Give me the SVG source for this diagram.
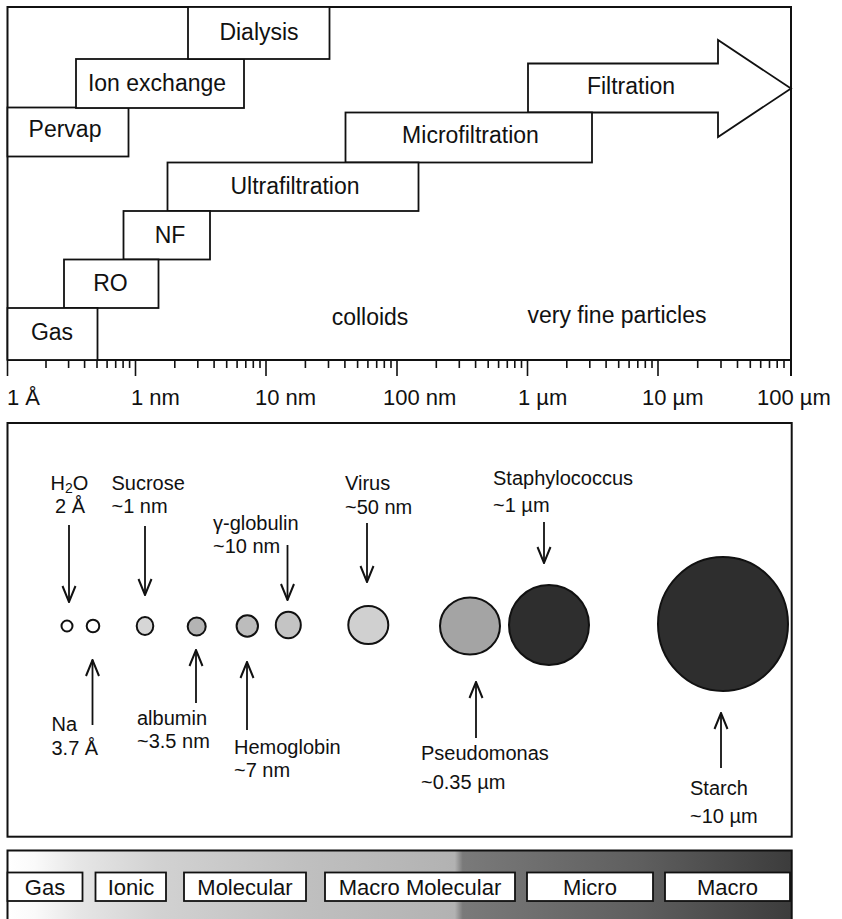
<svg xmlns="http://www.w3.org/2000/svg" width="842" height="919" viewBox="0 0 842 919">
<style>
text{font-family:"Liberation Sans",Arial,sans-serif;fill:#111}
.t{font-size:23px;text-anchor:middle}
.ax{font-size:22px}
.m{font-size:20px}
.b{font-size:22px;text-anchor:middle}
.box{fill:#fff;stroke:#111;stroke-width:1.8}
.frame{fill:none;stroke:#111;stroke-width:2}
.tick{stroke:#111;stroke-width:1.6}
.arr{stroke:#111;stroke-width:1.8;fill:none}
.p{stroke:#111;stroke-width:2}
</style>
<defs>
<marker id="ah" markerUnits="userSpaceOnUse" markerWidth="18" markerHeight="18" viewBox="-17 -9 18 18" refX="0" refY="0" orient="auto">
<path d="M-16,-6.5 L0,0 L-16,6.5" fill="none" stroke="#111" stroke-width="2"/>
</marker>
<linearGradient id="g" x1="8" y1="0" x2="792" y2="0" gradientUnits="userSpaceOnUse">
<stop offset="0" stop-color="#ffffff"/>
<stop offset="0.034" stop-color="#fafafa"/>
<stop offset="0.09" stop-color="#e6e6e6"/>
<stop offset="0.19" stop-color="#d2d2d2"/>
<stop offset="0.37" stop-color="#c0c0c0"/>
<stop offset="0.57" stop-color="#b2b2b2"/>
<stop offset="0.58" stop-color="#7a7a7a"/>
<stop offset="0.81" stop-color="#5e5e5e"/>
<stop offset="1" stop-color="#3c3c3c"/>
</linearGradient>
</defs>

<!-- Top panel -->
<g id="top-frame">
<path class="frame" d="M7.5,360 V7 H791 V376"/>
<line class="frame" x1="7.5" y1="360" x2="791" y2="360"/>
</g>
<g id="axis-ticks">
<path class="tick" d="M7.5,360V376M135.5,360V376M266,360V376M397,360V376M527.5,360V376M658,360V376
M46,360V368M68.6,360V368M84.6,360V368M97,360V368M107.1,360V368M115.7,360V368M123.1,360V368M129.6,360V368
M174.8,360V368M197.8,360V368M214.1,360V368M226.7,360V368M237.1,360V368M245.8,360V368M253.3,360V368M260,360V368
M305.4,360V368M328.5,360V368M344.9,360V368M357.6,360V368M367.9,360V368M376.7,360V368M384.3,360V368M391,360V368
M436.3,360V368M459.3,360V368M475.6,360V368M488.2,360V368M498.6,360V368M507.3,360V368M514.8,360V368M521.5,360V368
M566.8,360V368M589.8,360V368M606.1,360V368M618.7,360V368M629.1,360V368M637.8,360V368M645.3,360V368M652,360V368
M697.7,360V368M721,360V368M737.5,360V368M750.3,360V368M760.7,360V368M769.5,360V368M777.2,360V368M784,360V368"/>
</g>
<g id="axis-labels">
<text class="ax" x="7" y="405">1 Å</text>
<text class="ax" x="131" y="405">1 nm</text>
<text class="ax" x="255" y="405">10 nm</text>
<text class="ax" x="383" y="405">100 nm</text>
<text class="ax" x="518" y="405">1 µm</text>
<text class="ax" x="642" y="405">10 µm</text>
<text class="ax" x="757" y="405">100 µm</text>
</g>
<g id="node-filtration">
<path class="box" d="M528,63.5 H718 V40 L791,88.5 L718,137 V112.5 H528 Z"/>
<text class="t" x="631" y="94">Filtration</text>
</g>
<g id="node-microfiltration">
<rect class="box" x="345.5" y="112.5" width="246.5" height="50"/>
<text class="t" x="470.5" y="143">Microfiltration</text>
</g>
<g id="node-ultrafiltration">
<rect class="box" x="167.5" y="162.5" width="251" height="48.5"/>
<text class="t" x="295" y="194">Ultrafiltration</text>
</g>
<g id="node-nf">
<rect class="box" x="123.5" y="211" width="86.5" height="48.5"/>
<text class="t" x="170" y="243">NF</text>
</g>
<g id="node-ro">
<rect class="box" x="64" y="259.5" width="94.5" height="48.5"/>
<text class="t" x="110.5" y="291">RO</text>
</g>
<g id="node-gas">
<rect class="box" x="7.5" y="308" width="90" height="52"/>
<text class="t" x="52" y="340">Gas</text>
</g>
<g id="node-pervap">
<rect class="box" x="7.5" y="107.5" width="121" height="49"/>
<text class="t" x="65" y="137">Pervap</text>
</g>
<g id="node-ion-exchange">
<rect class="box" x="76" y="59" width="168" height="49"/>
<text class="t" x="157" y="91">Ion exchange</text>
</g>
<g id="node-dialysis">
<rect class="box" x="188" y="7" width="141.5" height="52"/>
<text class="t" x="259" y="40">Dialysis</text>
</g>
<g id="region-labels">
<text class="t" x="370" y="325">colloids</text>
<text class="t" x="617" y="323">very fine particles</text>
</g>

<!-- Middle panel -->
<g id="middle-frame">
<rect class="frame" x="7.5" y="423" width="784.2" height="413.7"/>
</g>
<g id="particles">
<circle class="p" cx="67" cy="626" r="5.5" fill="#fff"/>
<circle class="p" cx="93" cy="626" r="6.3" fill="#fff"/>
<ellipse class="p" cx="145" cy="626" rx="8.3" ry="9" fill="#d6d6d6"/>
<circle class="p" cx="196.7" cy="626.5" r="9" fill="#b4b4b4"/>
<circle class="p" cx="247.3" cy="626" r="10.7" fill="#bcbcbc"/>
<ellipse class="p" cx="288.3" cy="625" rx="12.5" ry="13.3" fill="#c4c4c4"/>
<ellipse class="p" cx="368.3" cy="625" rx="20" ry="19" fill="#d0d0d0"/>
<ellipse class="p" cx="470" cy="626" rx="30" ry="28.5" fill="#a4a4a4"/>
<circle class="p" cx="549" cy="625" r="40" fill="#2e2e2e"/>
<ellipse class="p" cx="723" cy="624" rx="65" ry="67" fill="#2e2e2e"/>
</g>
<g id="connectors">
<line class="arr" x1="69" y1="525" x2="69" y2="602" marker-end="url(#ah)"/>
<line class="arr" x1="145" y1="526" x2="145" y2="595" marker-end="url(#ah)"/>
<line class="arr" x1="287.5" y1="545" x2="287.5" y2="600" marker-end="url(#ah)"/>
<line class="arr" x1="367" y1="523" x2="367" y2="582" marker-end="url(#ah)"/>
<line class="arr" x1="544" y1="522" x2="544" y2="563" marker-end="url(#ah)"/>
<line class="arr" x1="92.5" y1="725" x2="92.5" y2="660" marker-end="url(#ah)"/>
<line class="arr" x1="196" y1="703" x2="196" y2="650" marker-end="url(#ah)"/>
<line class="arr" x1="247" y1="730" x2="247" y2="662" marker-end="url(#ah)"/>
<line class="arr" x1="476" y1="738" x2="476" y2="682" marker-end="url(#ah)"/>
<line class="arr" x1="721" y1="768" x2="721" y2="713" marker-end="url(#ah)"/>
</g>
<g id="label-h2o">
<text class="m" x="50.5" y="490">H<tspan font-size="14" dy="3">2</tspan><tspan dy="-3">O</tspan></text>
<text class="m" x="55" y="513">2 Å</text>
</g>
<g id="label-sucrose">
<text class="m" x="111.5" y="490">Sucrose</text>
<text class="m" x="111.5" y="513">~1 nm</text>
</g>
<g id="label-globulin">
<text class="m" x="213" y="530">γ-globulin</text>
<text class="m" x="213" y="553">~10 nm</text>
</g>
<g id="label-virus">
<text class="m" x="345" y="490">Virus</text>
<text class="m" x="345" y="514">~50 nm</text>
</g>
<g id="label-staph">
<text class="m" x="493" y="485">Staphylococcus</text>
<text class="m" x="493" y="512">~1 µm</text>
</g>
<g id="label-na">
<text class="m" x="51.5" y="731">Na</text>
<text class="m" x="51.5" y="755">3.7 Å</text>
</g>
<g id="label-albumin">
<text class="m" x="137" y="725">albumin</text>
<text class="m" x="137" y="748">~3.5 nm</text>
</g>
<g id="label-hemoglobin">
<text class="m" x="234" y="754">Hemoglobin</text>
<text class="m" x="234" y="777">~7 nm</text>
</g>
<g id="label-pseudomonas">
<text class="m" x="421" y="760">Pseudomonas</text>
<text class="m" x="421" y="789">~0.35 µm</text>
</g>
<g id="label-starch">
<text class="m" x="690" y="795">Starch</text>
<text class="m" x="690" y="823">~10 µm</text>
</g>

<!-- Bottom panel -->
<g id="bottom-frame">
<rect x="7.5" y="850.5" width="784.2" height="90" fill="url(#g)" stroke="#111" stroke-width="2"/>
</g>
<g id="node-b-gas">
<rect class="box" x="7.5" y="872.5" width="75" height="28.5"/>
<text class="b" x="45" y="895">Gas</text>
</g>
<g id="node-b-ionic">
<rect class="box" x="95.5" y="872.5" width="70.5" height="28.5"/>
<text class="b" x="131" y="895">Ionic</text>
</g>
<g id="node-b-molecular">
<rect class="box" x="184" y="872.5" width="122" height="28.5"/>
<text class="b" x="245" y="895">Molecular</text>
</g>
<g id="node-b-macromolecular">
<rect class="box" x="325" y="872.5" width="190" height="28.5"/>
<text class="b" x="420" y="895">Macro Molecular</text>
</g>
<g id="node-b-micro">
<rect class="box" x="527" y="872.5" width="126" height="28.5"/>
<text class="b" x="590" y="895">Micro</text>
</g>
<g id="node-b-macro">
<rect class="box" x="665" y="872.5" width="125" height="28.5"/>
<text class="b" x="727.5" y="895">Macro</text>
</g>
</svg>
